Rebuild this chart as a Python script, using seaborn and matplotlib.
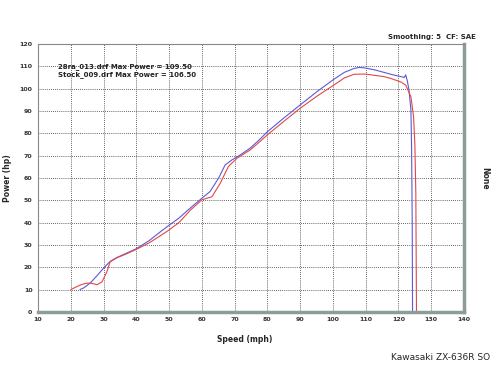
import pandas as pd
import seaborn as sns
import matplotlib.pyplot as plt
from matplotlib.ticker import MultipleLocator

# 28ra_013.drf (blue)
speed_28ra = [22.8, 24.0, 25.9, 28.0, 30.0, 32.0, 34.0, 37.0, 40.0, 44.0, 47.0, 50.0,
              53.0, 57.0, 60.0, 62.5, 65.1, 67.1, 69.2, 71.7, 74.7, 77.5, 80.0, 84.9,
              90.0, 95.0, 100.3, 103.5, 106.4, 108.0, 110.0, 113.0, 115.5, 118.0, 120.7,
              121.8, 122.2, 122.7, 123.2, 123.8, 124.0, 124.2, 124.3]
power_28ra = [10.0, 10.8, 12.9, 16.2, 19.6, 22.6, 24.3, 26.3, 28.3, 32.0, 35.5, 38.8,
              42.0, 47.2, 50.9, 53.9, 59.9, 65.8, 68.1, 70.3, 73.3, 77.0, 80.7, 86.7,
              92.7, 98.5, 104.2, 107.3, 109.0, 109.5, 109.2, 108.3, 107.3, 106.3, 105.4,
              105.0, 106.2, 103.5, 99.4, 90.5, 74.0, 40.0, 0.0]

# Stock_009.drf (red)
speed_stock = [20.0, 22.8, 24.5, 25.9, 27.0, 28.0, 29.5, 31.0, 32.0, 34.0, 37.0, 40.0,
               44.0, 47.0, 50.0, 53.0, 56.6, 60.0, 63.1, 65.6, 68.1, 70.7, 74.7, 77.5,
               80.0, 84.9, 90.0, 95.0, 100.3, 103.5, 106.4, 108.0, 110.0, 113.0, 115.5,
               117.6, 120.7, 122.2, 123.8, 124.6, 125.0, 125.3, 125.5]
power_stock = [10.0, 12.0, 12.8, 12.9, 12.6, 12.2, 13.4, 17.9, 22.4, 24.2, 26.0, 28.0,
               31.0, 33.8, 36.7, 40.0, 45.7, 50.2, 51.6, 57.6, 65.1, 68.8, 72.5, 76.0,
               79.3, 85.2, 91.2, 96.5, 101.6, 104.8, 106.4, 106.5, 106.5, 105.9, 105.4,
               104.6, 103.0, 101.6, 96.4, 87.5, 75.5, 53.0, 0.0]

max_power = {"28ra_013.drf": 109.50, "Stock_009.drf": 106.50}

df = pd.concat([
    pd.DataFrame({"speed": speed_28ra, "power": power_28ra, "run": "28ra_013.drf"}),
    pd.DataFrame({"speed": speed_stock, "power": power_stock, "run": "Stock_009.drf"}),
])

sns.set_style("white")
fig = plt.figure(figsize=(5, 3.79), dpi=100)
ax = fig.add_axes([0.076, 0.177, 0.852, 0.707])

sns.lineplot(data=df, x="speed", y="power", hue="run", sort=False, estimator=None,
             palette={"28ra_013.drf": "#5a5ad8", "Stock_009.drf": "#e04848"},
             linewidth=0.8, legend=False, ax=ax)

ax.set_xlim(10, 140)
ax.set_ylim(0, 120)
ax.xaxis.set_major_locator(MultipleLocator(10))
ax.yaxis.set_major_locator(MultipleLocator(10))
ax.xaxis.set_minor_locator(MultipleLocator(2))
ax.yaxis.set_minor_locator(MultipleLocator(2))
ax.grid(True, which="major", color="#333333", linestyle=(0, (1, 1.5)), linewidth=0.6)
ax.tick_params(which="both", direction="out", labelsize=4.5, pad=1.5, colors="#333333")
ax.tick_params(which="major", length=2.5, width=0.6)
ax.tick_params(which="minor", length=1.5, width=0.5)
for lab in ax.get_xticklabels() + ax.get_yticklabels():
    lab.set_fontweight("bold")

for side in ["top", "left"]:
    ax.spines[side].set_color("#888888")
    ax.spines[side].set_linewidth(0.8)
for side in ["right", "bottom"]:
    ax.spines[side].set_color("#8c9c98")
    ax.spines[side].set_linewidth(2.5)

ax.set_xlabel("")
ax.set_ylabel("")

y = 0.915
for run, mp in max_power.items():
    ax.text(0.047, y, f"{run} Max Power = {mp:.2f}", transform=ax.transAxes,
            fontsize=5, fontweight="bold", color="#222222", va="center")
    y -= 0.03

fig.text(0.016, 0.53, "Power (hp)", rotation=90, fontsize=5.5, fontweight="bold",
         ha="center", va="center")
fig.text(0.97, 0.53, "None", rotation=-90, fontsize=5.5, fontweight="bold",
         ha="center", va="center")
fig.text(0.49, 0.103, "Speed (mph)", fontsize=5.5, fontweight="bold",
         ha="center", va="center")
fig.text(0.952, 0.902, "Smoothing: 5  CF: SAE", fontsize=5, fontweight="bold",
         ha="right", va="center")
fig.text(0.98, 0.058, "Kawasaki ZX-636R SO", fontsize=6.5, ha="right", va="center")

fig.savefig("out.png", dpi=100)
